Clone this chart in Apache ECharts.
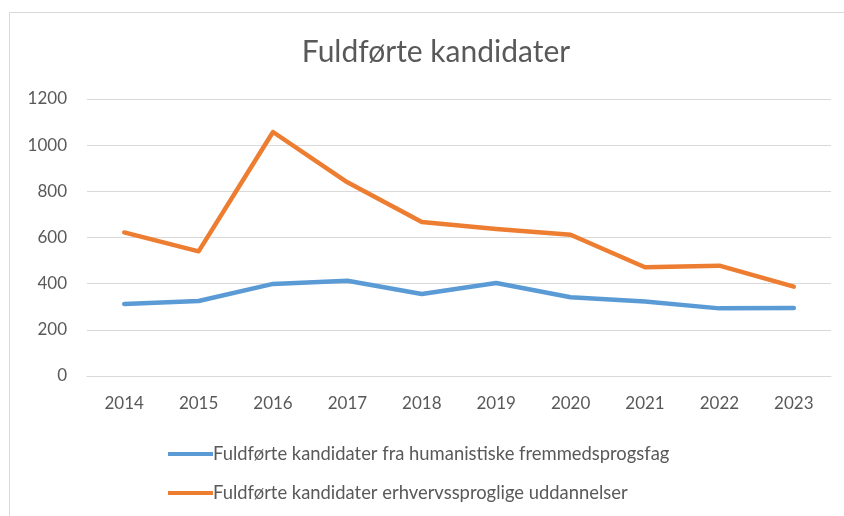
<!DOCTYPE html>
<html>
<head>
<meta charset="utf-8">
<script src="https://cdn.jsdelivr.net/npm/echarts@6/dist/echarts.min.js"></script>
<style>
  html, body { margin: 0; padding: 0; background: #fff; }
  #chart { width: 844px; height: 516px; }
</style>
</head>
<body>
<div id="chart"></div>
<script>
const years = ["2014", "2015", "2016", "2017", "2018", "2019", "2020", "2021", "2022", "2023"];
const humanistiske = [312, 325, 399, 413, 355, 403, 341, 323, 293, 295];
const erhvervssproglige = [622, 540, 1057, 839, 667, 637, 612, 471, 478, 387];
const seriesNames = [
  "Fuldførte kandidater fra humanistiske fremmedsprogsfag",
  "Fuldførte kandidater erhvervssproglige uddannelser",
];

const font = "Lato";
const textColor = "#595959";

const chart = echarts.init(document.getElementById("chart"));
chart.setOption({
  animation: false,
  color: ["#5B9BD5", "#ED7D31"],
  title: {
    text: "Fuldførte kandidater",
    left: 431,
    textAlign: "center",
    top: 32,
    textStyle: { fontFamily: font, fontSize: 30, fontWeight: "normal", color: textColor },
  },
  graphic: [
    {
      type: "rect",
      shape: { x: 9.5, y: 12.5, width: 900, height: 600 },
      style: { fill: "none", stroke: "#d9d9d9", lineWidth: 1 },
      silent: true,
    },
  ],
  grid: { left: 87, right: 13, top: 99, bottom: 140 },
  legend: {
    orient: "vertical",
    left: 163,
    top: 440,
    itemWidth: 45,
    itemHeight: 4,
    itemGap: 21,
    icon: "rect",
    textStyle: { fontFamily: font, fontSize: 18.4, color: textColor, padding: [0, 0, 0, -5] },
    data: seriesNames,
  },
  xAxis: {
    type: "category",
    data: years,
    axisTick: { show: false },
    axisLine: { lineStyle: { color: "#d9d9d9" } },
    axisLabel: { fontFamily: font, fontSize: 17, color: textColor, margin: 19 },
  },
  yAxis: {
    type: "value",
    min: 0,
    max: 1200,
    interval: 200,
    axisLabel: { fontFamily: font, fontSize: 17, color: textColor, margin: 20, formatter: (v) => String(v) },
    splitLine: { lineStyle: { color: "#d9d9d9", width: 1 } },
  },
  series: [
    {
      name: seriesNames[0],
      type: "line",
      data: humanistiske,
      showSymbol: false,
      lineStyle: { width: 4.5, cap: "round", join: "round" },
    },
    {
      name: seriesNames[1],
      type: "line",
      data: erhvervssproglige,
      showSymbol: false,
      lineStyle: { width: 4.5, cap: "round", join: "round" },
    },
  ],
});
</script>
</body>
</html>
